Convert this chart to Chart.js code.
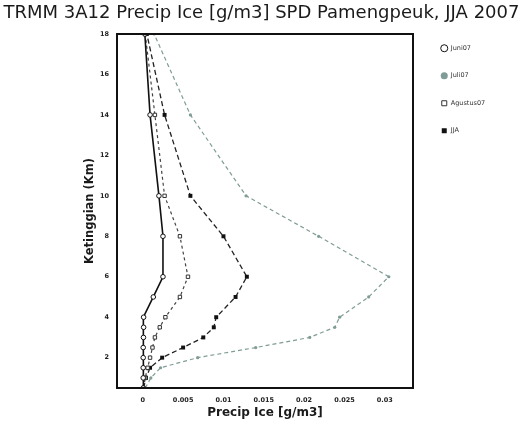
<!DOCTYPE html>
<html>
<head>
<meta charset="utf-8">
<script src="https://cdn.jsdelivr.net/npm/chart.js@4/dist/chart.umd.min.js"></script>
<style>
  html, body { margin: 0; padding: 0; background: #ffffff; }
  #wrap { width: 523px; height: 427px; }
</style>
</head>
<body>
<div id="wrap"><canvas id="c" width="523" height="427"></canvas></div>
<script>
// ---- data ----
const heights   = [0.5, 1, 1.5, 2, 2.5, 3, 3.5, 4, 5, 6, 8, 10, 14, 18];
const juni07    = [0.00005, 0.00005, 0.00005, 0.00005, 0.00005, 0.00008, 0.0001, 0.0001, 0.0013, 0.0025, 0.0025, 0.002, 0.0009, 0.00025];
const juli07    = [0.0003, 0.001, 0.0022, 0.0068, 0.014, 0.0207, 0.0238, 0.0244, 0.028, 0.0305, 0.0218, 0.0128, 0.0059, 0.0014];
const agustus07 = [0.0001, 0.0003, 0.0006, 0.0009, 0.0012, 0.0015, 0.0021, 0.0028, 0.0046, 0.0056, 0.0046, 0.0027, 0.0015, 0.0003];
const jja       = [0.0001, 0.0004, 0.0009, 0.0024, 0.005, 0.0075, 0.0088, 0.0091, 0.0115, 0.0129, 0.0100, 0.0059, 0.0027, 0.0005];
const seriesNames = ['Juni07', 'Juli07', 'Agustus07', 'JJA'];
const xTicks = [0, 0.005, 0.01, 0.015, 0.02, 0.025, 0.03];
const yTicks = [2, 4, 6, 8, 10, 12, 14, 16, 18];
const titleText = 'TRMM 3A12 Precip Ice [g/m3] SPD Pamengpeuk, JJA 2007';
const xTitle = 'Precip Ice [g/m3]';
const yTitle = 'Ketinggian (Km)';

const pts = arr => arr.map((v, i) => ({x: v, y: heights[i]}));

const AREA = {left: 117, right: 413, top: 34, bottom: 388};

const boxPlugin = {
  id: 'boxPlugin',
  afterInit(chart) {
    const lg = chart.legend;
    if (lg) {
      const origFit = lg.fit.bind(lg);
      lg.fit = function () { origFit(); this.width = 523 - AREA.right; };
    }
  },
  afterLayout(chart) {
    const lg = chart.legend;
    if (lg) {
      lg.left += 7; lg.right += 7;
      lg.top += 24; lg.bottom += 24;
    }
  },
  afterDatasetsDraw(chart) {
    const {ctx, chartArea: a} = chart;
    ctx.save();
    ctx.strokeStyle = '#111';
    ctx.lineWidth = 2;
    ctx.strokeRect(a.left, a.top, a.right - a.left, a.bottom - a.top);
    ctx.restore();
  }
};

const font = 'DejaVu Sans';

new Chart(document.getElementById('c'), {
  type: 'scatter',
  data: {
    datasets: [
      {
        label: seriesNames[0], data: pts(juni07), showLine: true,
        borderColor: '#111', borderWidth: 1.6,
        pointStyle: 'circle', pointRadius: 2.3, pointBorderWidth: 1,
        pointBackgroundColor: '#fff', pointBorderColor: '#111'
      },
      {
        label: seriesNames[1], data: pts(juli07), showLine: true,
        borderColor: '#7f9c96', borderWidth: 1.2, borderDash: [4, 3],
        pointStyle: 'circle', pointRadius: 1.6, pointBorderWidth: 0,
        pointBackgroundColor: '#7f9c96', pointBorderColor: '#7f9c96'
      },
      {
        label: seriesNames[2], data: pts(agustus07), showLine: true,
        borderColor: '#444', borderWidth: 1.2, borderDash: [3, 3],
        pointStyle: 'rect', pointRadius: 2.4, pointBorderWidth: 1,
        pointBackgroundColor: '#fff', pointBorderColor: '#333'
      },
      {
        label: seriesNames[3], data: pts(jja), showLine: true,
        borderColor: '#222', borderWidth: 1.3, borderDash: [5, 3],
        pointStyle: 'rect', pointRadius: 2.8, pointBorderWidth: 0,
        pointBackgroundColor: '#111', pointBorderColor: '#111'
      }
    ]
  },
  options: {
    responsive: false,
    animation: false,
    layout: {padding: {left: 0, right: 0, top: 0, bottom: 0}},
    plugins: {
      title: {
        display: true, text: titleText, color: '#1a1a1a',
        font: {family: font, size: 18, weight: 'normal'},
        padding: {top: 3, bottom: 9.4}
      },
      legend: {
        display: true, position: 'right', align: 'start',
        labels: {
          usePointStyle: true, boxHeight: 5, padding: 21,
          color: '#333', font: {family: font, size: 6.5}
        }
      },
      tooltip: {enabled: false}
    },
    scales: {
      x: {
        type: 'linear', min: -0.0032, max: 0.0335,
        grid: {display: false},
        border: {display: true, color: '#111', width: 2},
        afterFit(s) { s.height = 427 - AREA.bottom; },
        afterBuildTicks(s) { s.ticks = xTicks.map(v => ({value: v})); },
        ticks: {
          color: '#222', padding: 0, maxRotation: 0,
          font: {family: font, size: 6.5, weight: 'bold'},
          callback: v => String(v)
        },
        title: {
          display: true, text: xTitle, color: '#1a1a1a',
          font: {family: font, size: 12, weight: 'bold'},
          padding: {top: 0, bottom: 7}
        }
      },
      y: {
        type: 'linear', min: 0.5, max: 18,
        grid: {display: false},
        border: {display: true, color: '#111', width: 2},
        afterFit(s) { s.width = AREA.left; },
        afterBuildTicks(s) { s.ticks = yTicks.map(v => ({value: v})); },
        ticks: {
          color: '#222', padding: 0,
          font: {family: font, size: 6.5, weight: 'bold'},
          callback: v => String(v)
        },
        title: {
          display: true, text: yTitle, color: '#1a1a1a',
          font: {family: font, size: 11.5, weight: 'bold'},
          padding: {top: 83, bottom: 0}
        }
      }
    }
  },
  plugins: [boxPlugin]
});
</script>
</body>
</html>
